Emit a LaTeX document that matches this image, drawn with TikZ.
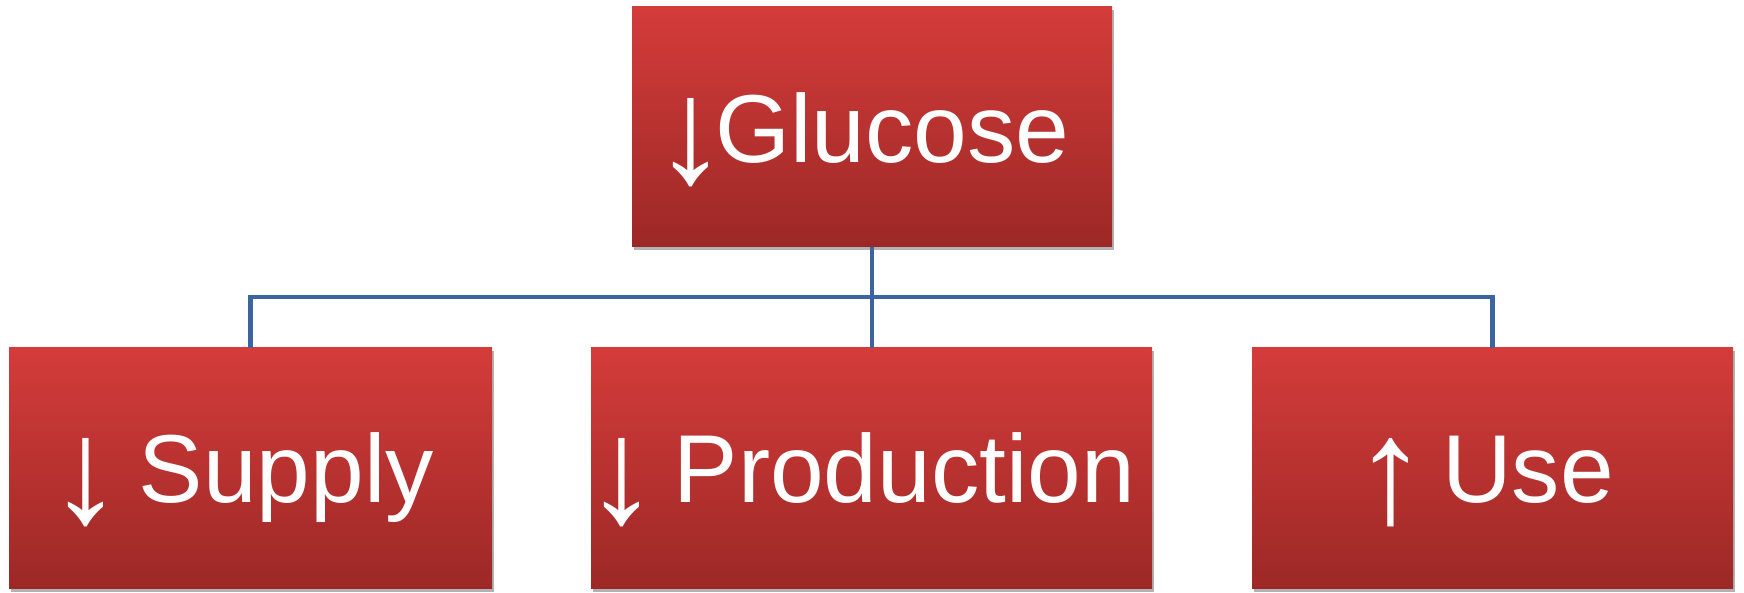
\documentclass[tikz,border=0pt]{standalone}
\usepackage{graphicx}
\usepackage{fontspec}
\setmainfont{Liberation Sans}
\usetikzlibrary{shadows,calc}
\definecolor{rtop}{RGB}{212,60,58}
\definecolor{rmid}{RGB}{192,52,52}
\definecolor{rbot}{RGB}{156,40,38}
\definecolor{conn}{RGB}{60,100,158}
\newcommand\dnarr{\makebox[35pt]{\raisebox{-20pt}{\scalebox{1.55}{↓}}}}
\newcommand\uparr{\makebox[35pt]{\raisebox{-20pt}{\scalebox{1.55}{↑}}}}
\begin{document}
\begin{tikzpicture}[x=1pt,y=1pt,
  box/.style={rectangle, inner sep=0pt, top color=rtop, middle color=rmid, bottom color=rbot,
    drop shadow={shadow xshift=1.5pt, shadow yshift=-3pt, opacity=0.3, fill=black}},
  lbl/.style={text=white, font=\fontsize{96.5}{100}\selectfont, inner sep=0pt, anchor=base west},
  wire/.style={draw=conn, line width=4.5pt}]
\useasboundingbox (0,0) rectangle (1744,593);
\coordinate (bus) at (0,296);
% boxes
\node[box, minimum width=480pt, minimum height=240pt] (glu) at (872,466) {};
\node[box, minimum width=483pt, minimum height=241pt] (sup) at (250.5,124.5) {};
\node[box, minimum width=561pt, minimum height=241pt] (prod) at (871.5,124.5) {};
\node[box, minimum width=481pt, minimum height=241pt] (use) at (1492.5,124.5) {};
% connectors
\draw[wire] (glu.south) -- (glu.south |- bus) -| (sup.north);
\draw[wire] (glu.south |- bus) -| (use.north);
\draw[wire] (glu.south) -- (glu.south |- prod.north);
% labels
\node[lbl] (glut) at (673,430) {\dnarr\hspace{7pt}Glucose};
\node[lbl] (supt) at (68,90) {\dnarr\hspace{35.5pt}Supply};
\node[lbl] (prodt) at (604,90) {\dnarr\hspace{34.5pt}Production};
\node[lbl] (uset) at (1373,90) {\uparr\hspace{34pt}Use};
\end{tikzpicture}
\end{document}
